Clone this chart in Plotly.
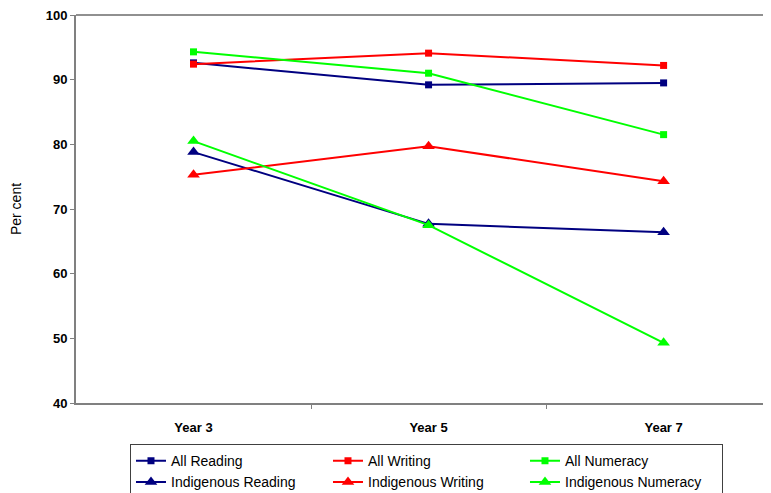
import plotly.graph_objects as go

years = ["Year 3", "Year 5", "Year 7"]
all_reading = [92.6, 89.2, 89.5]
all_writing = [92.4, 94.1, 92.2]
all_numeracy = [94.3, 91.0, 81.5]
ind_reading = [78.8, 67.7, 66.4]
ind_writing = [75.3, 79.7, 74.3]
ind_numeracy = [80.5, 67.5, 49.3]

NAVY = "#000080"
RED = "#FF0000"
GREEN = "#00FF00"

series = [
    ("All Reading", all_reading, NAVY, "square", 7),
    ("All Writing", all_writing, RED, "square", 7),
    ("All Numeracy", all_numeracy, GREEN, "square", 7),
    ("Indigenous Reading", ind_reading, NAVY, "triangle-up", 11),
    ("Indigenous Writing", ind_writing, RED, "triangle-up", 11),
    ("Indigenous Numeracy", ind_numeracy, GREEN, "triangle-up", 11),
]

xpos = list(range(len(years)))
fig = go.Figure()
for name, vals, col, sym, sz in series:
    fig.add_trace(go.Scatter(
        x=xpos, y=vals, name=name, mode="lines+markers",
        line=dict(color=col, width=2),
        marker=dict(symbol=sym, size=sz, color=col),
    ))

fig.update_layout(
    width=771, height=493,
    margin=dict(l=68, r=0, t=7, b=98, autoexpand=False),
    paper_bgcolor="white", plot_bgcolor="white",
    font=dict(family="Liberation Sans, Arial, sans-serif", color="black"),
    showlegend=True,
    legend=dict(
        orientation="h", x=0.0768, xanchor="left", y=-0.106, yanchor="top",
        entrywidth=152, entrywidthmode="pixels",
        bordercolor="#404040", borderwidth=1, bgcolor="white",
        font=dict(size=14, family="Liberation Sans, Arial, sans-serif"),
        tracegroupgap=0, itemwidth=30,
    ),
    shapes=[dict(type="line", xref="paper", yref="paper", x0=0, x1=1, y0=1, y1=1,
                 line=dict(color="#909090", width=2))],
)

fig.update_xaxes(
    range=[-0.5, 2.491], tickvals=xpos, ticktext=years,
    showgrid=False, zeroline=False, showline=True, linecolor="#808080", linewidth=2,
    ticks="", ticklabelstandoff=11,
    tickfont=dict(size=13, family="Liberation Sans, Arial, sans-serif", weight="bold"),
    minor=dict(tickvals=[0.5, 1.5], ticks="outside", ticklen=4, tickcolor="#808080", tickwidth=1),
)
fig.update_yaxes(
    range=[40, 100], tickvals=[40, 50, 60, 70, 80, 90, 100],
    showgrid=False, zeroline=False, showline=True, linecolor="#808080", linewidth=2,
    ticks="outside", ticklen=4, tickcolor="#808080", ticklabeloverflow="allow",
    tickfont=dict(size=13, family="Liberation Sans, Arial, sans-serif", weight="bold"),
    title=dict(text="Per cent", font=dict(size=14), standoff=22),
)

fig.write_html("out.html")
